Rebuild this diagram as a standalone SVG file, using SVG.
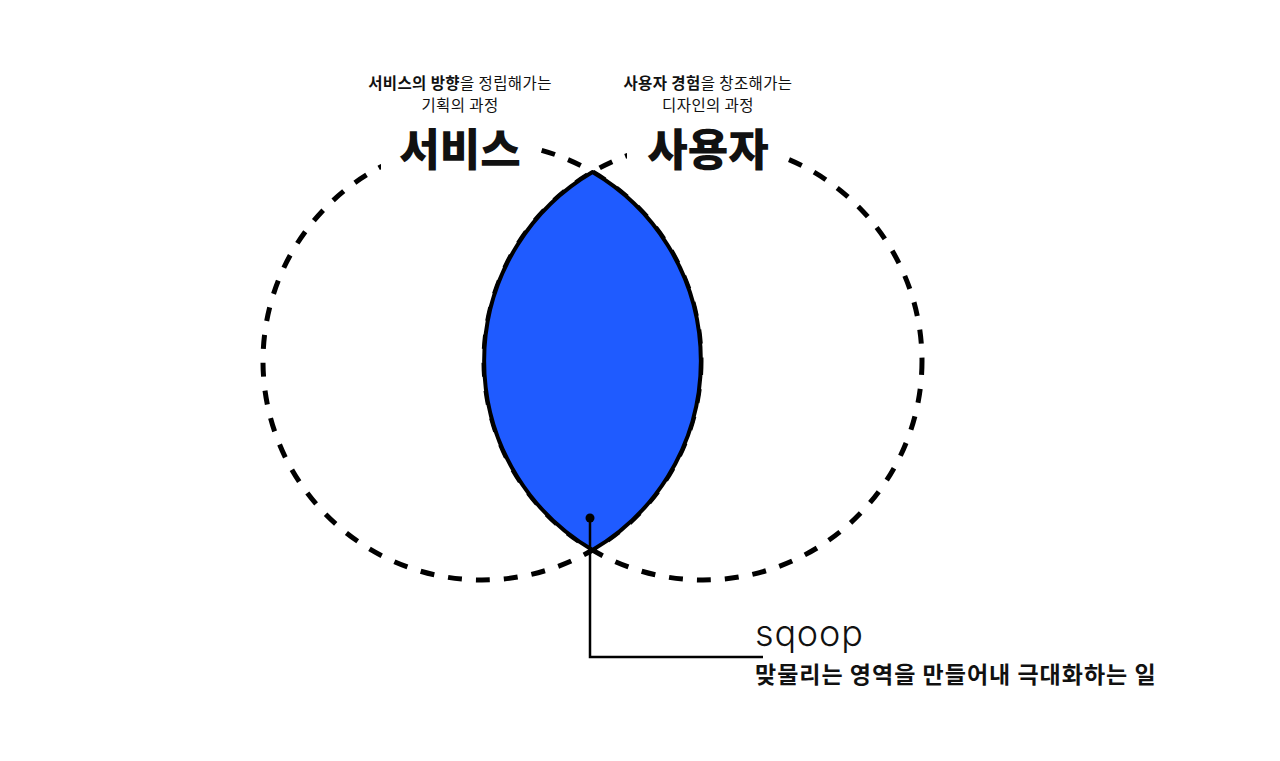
<svg xmlns="http://www.w3.org/2000/svg" width="1280" height="761" viewBox="0 0 1280 761">
<style>
.ko{font-family:"Noto Sans CJK KR","Noto Sans",sans-serif;fill:#111}
.sm{font-size:15.5px;letter-spacing:0.4px}
.b{font-weight:700}
.big{font-size:44px;font-weight:900}
.ring{fill:none;stroke:#000;stroke-width:5;stroke-dasharray:14 14}
</style>
<rect width="1280" height="761" fill="#fff"/>
<g id="circle-service"><circle class="ring" cx="482" cy="361" r="219"/></g>
<g id="circle-user"><circle class="ring" cx="703" cy="361" r="219"/></g>
<g id="label-service">
<rect x="381" y="120" width="156" height="58" fill="#fff"/>
<text class="ko sm" x="460" y="89" text-anchor="middle"><tspan class="b">서비스의 방향</tspan>을 정립해가는</text>
<text class="ko sm" x="460" y="111" text-anchor="middle">기획의 과정</text>
<text class="ko big" x="460" y="166" text-anchor="middle">서비스</text>
</g>
<g id="label-user">
<rect x="627" y="120" width="161" height="58" fill="#fff"/>
<text class="ko sm" x="708" y="89" text-anchor="middle"><tspan class="b">사용자 경험</tspan>을 창조해가는</text>
<text class="ko sm" x="708" y="111" text-anchor="middle">디자인의 과정</text>
<text class="ko big" x="708" y="166" text-anchor="middle">사용자</text>
</g>
<g id="lens-sqoop"><path d="M592.5,172 A219,219 0 0 0 592.5,550 A219,219 0 0 0 592.5,172 Z" fill="#1f5bff" stroke="#000" stroke-width="4" stroke-linejoin="round"/></g>
<g id="connectors">
<circle cx="590" cy="518" r="4.5" fill="#000"/>
<polyline points="590,518 590,657 763,657" fill="none" stroke="#000" stroke-width="2.5"/>
</g>
<g id="label-sqoop">
<text x="755" y="646" style="font-family:Inter,'Liberation Sans',sans-serif;font-size:36px;font-weight:300;letter-spacing:0.8px;fill:#111">sqoop</text>
<text class="ko b" x="755" y="683" style="font-size:23px;letter-spacing:1px">맞물리는 영역을 만들어내 극대화하는 일</text>
</g>
</svg>
